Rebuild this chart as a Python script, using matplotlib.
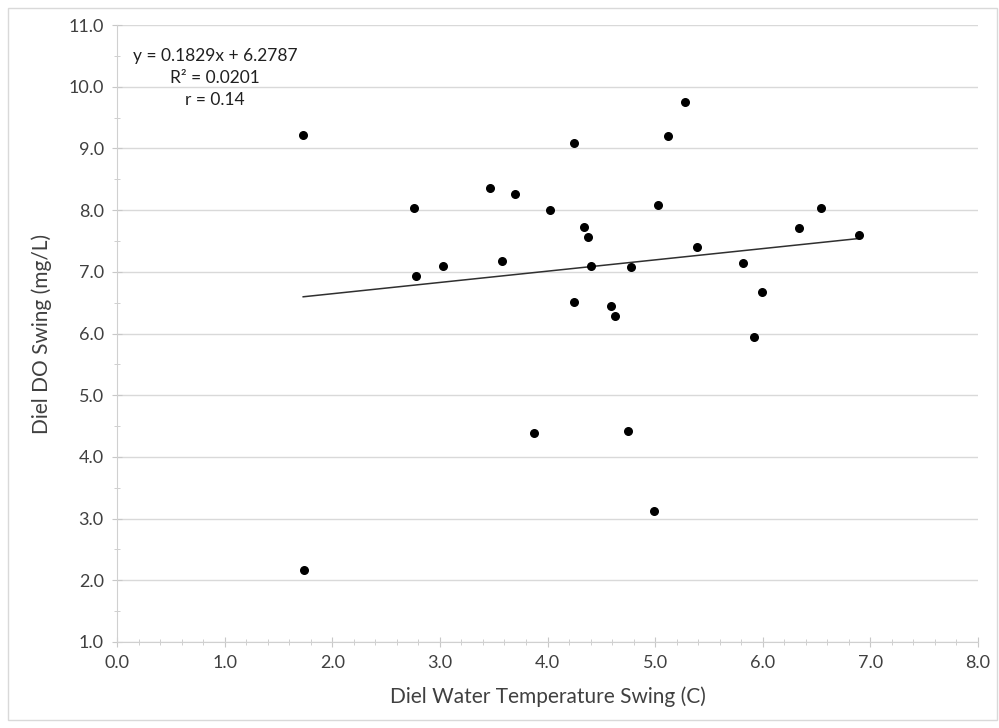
import matplotlib
matplotlib.use("Agg")
import matplotlib.pyplot as plt
from matplotlib.ticker import MultipleLocator, FormatStrFormatter
from matplotlib.patches import Rectangle

plt.rcParams["font.family"] = ["Lato", "DejaVu Sans"]

# diel water temperature swing (C) vs diel DO swing (mg/L)
temp_swing = [1.73, 1.74, 2.76, 2.78, 3.03, 3.47, 3.58, 3.70, 3.87, 4.02,
              4.25, 4.25, 4.34, 4.38, 4.40, 4.59, 4.63, 4.75, 4.78, 4.99,
              5.03, 5.12, 5.28, 5.39, 5.82, 5.92, 5.99, 6.34, 6.54, 6.89]
do_swing = [9.21, 2.16, 8.04, 6.94, 7.09, 8.36, 7.18, 8.26, 4.39, 8.00,
            9.09, 6.51, 7.73, 7.56, 7.10, 6.45, 6.29, 4.42, 7.07, 3.13,
            8.08, 9.20, 9.76, 7.40, 7.15, 5.95, 6.68, 7.71, 8.03, 7.59]

slope = 0.1829
intercept = 6.2787
r_squared = 0.0201
r_value = 0.14

fig = plt.figure(figsize=(9.99, 7.28), dpi=100)
ax = fig.add_axes([117 / 999, 1 - 642 / 728, (978 - 117) / 999, (642 - 25) / 728])

# outer chart border
fig.patches.append(Rectangle((8 / 999, 8 / 728), 989 / 999, 712 / 728,
                             transform=fig.transFigure, fill=False,
                             edgecolor="#d9d9d9", linewidth=1))

ax.scatter(temp_swing, do_swing, s=30, color="black", zorder=3)

x0, x1 = min(temp_swing), max(temp_swing)
ax.plot([x0, x1], [slope * x0 + intercept, slope * x1 + intercept],
        color="#303030", linewidth=1.1, zorder=2)

ax.set_xlim(0, 8)
ax.set_ylim(1, 11)
ax.xaxis.set_major_locator(MultipleLocator(1))
ax.xaxis.set_minor_locator(MultipleLocator(0.2))
ax.yaxis.set_major_locator(MultipleLocator(1))
ax.yaxis.set_minor_locator(MultipleLocator(0.5))
ax.xaxis.set_major_formatter(FormatStrFormatter("%.1f"))
ax.yaxis.set_major_formatter(FormatStrFormatter("%.1f"))

ax.grid(axis="y", which="major", color="#d9d9d9", linewidth=1)
ax.set_axisbelow(True)
for side in ["top", "right"]:
    ax.spines[side].set_visible(False)
for side in ["left", "bottom"]:
    ax.spines[side].set_color("#d0d0d0")

ax.tick_params(axis="both", which="major", direction="inout", length=7,
               color="#c8c8c8", labelsize=13, labelcolor="#404040", pad=6)
ax.tick_params(axis="both", which="minor", direction="inout", length=4,
               color="#c8c8c8")

ax.set_xlabel("Diel Water Temperature Swing (C)", fontsize=15, color="#404040",
              labelpad=11)
ax.set_ylabel("Diel DO Swing (mg/L)", fontsize=15, color="#404040", labelpad=12)

ax.text(0.114, 0.962,
        f"y = {slope}x + {intercept}\nR² = {r_squared}\nr = {r_value}",
        transform=ax.transAxes, ha="center", va="top", multialignment="center",
        fontsize=12.5, color="#202020", linespacing=1.45)

fig.savefig("out.png", dpi=100, facecolor="white")
